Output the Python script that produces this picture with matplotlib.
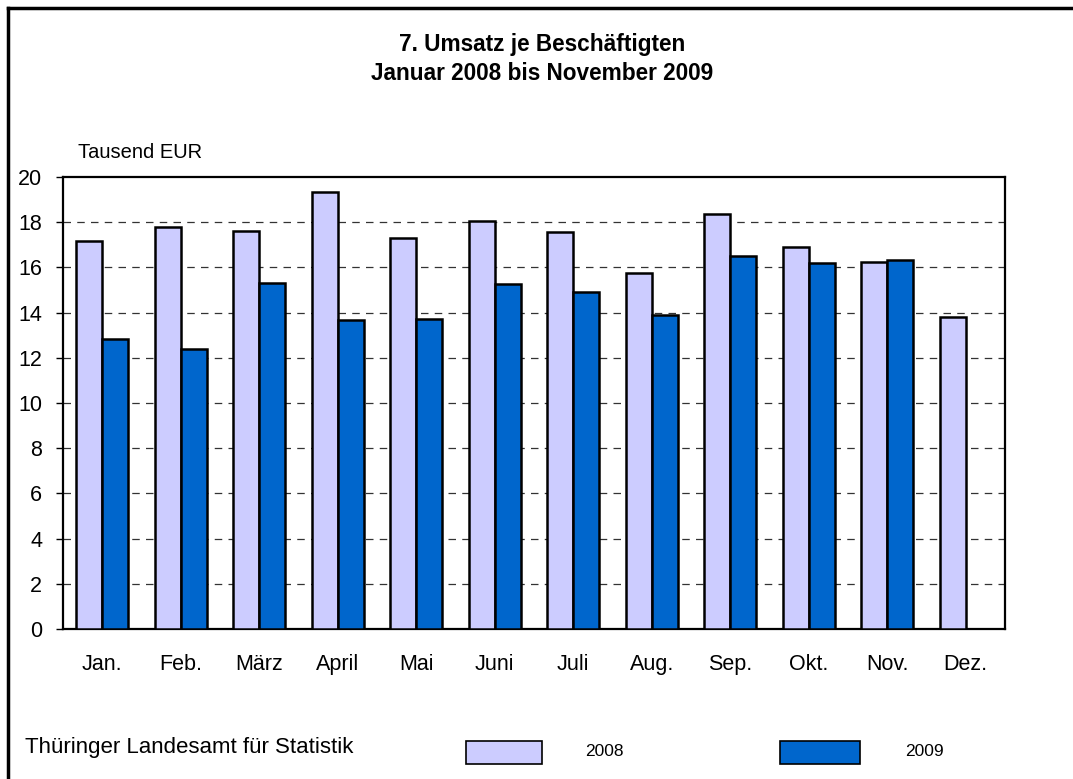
import matplotlib.pyplot as plt
import numpy as np
from matplotlib.patches import Rectangle
from matplotlib.lines import Line2D

plt.rcParams['font.family'] = ['Liberation Sans', 'DejaVu Sans']

# ---------------------------------------------------------
# DATA (Tausend EUR)
# ---------------------------------------------------------
months = ['Jan.', 'Feb.', 'März', 'April', 'Mai', 'Juni', 'Juli',
          'Aug.', 'Sep.', 'Okt.', 'Nov.', 'Dez.']
values_2008 = [17.15, 17.8, 17.6, 19.33, 17.32, 18.06, 17.57, 15.76,
               18.35, 16.92, 16.23, 13.8]
values_2009 = [12.82, 12.41, 15.3, 13.67, 13.73, 15.26, 14.91, 13.88,
               16.5, 16.18, 16.32]
yticks = list(range(0, 21, 2))

COL_2008 = '#CCCCFF'
COL_2009 = '#0066CC'

W, H = 1073, 779
fig = plt.figure(figsize=(W / 100, H / 100), dpi=100)

# outer frame (left and top edges only visible)
fig.add_artist(Line2D([7.5 / W, 7.5 / W], [0, 1 - 8 / H], color='black', lw=2.5,
                      transform=fig.transFigure))
fig.add_artist(Line2D([7.5 / W, 1], [1 - 8 / H, 1 - 8 / H], color='black', lw=2.5,
                      transform=fig.transFigure))

ax = fig.add_axes([63 / W, 1 - 629 / H, (1005 - 63) / W, (629 - 177) / H])

x = np.arange(len(months))
width = 0.33
ax.bar(x[:len(values_2008)] - width / 2, values_2008, width, color=COL_2008,
       edgecolor='black', linewidth=1.8, zorder=3)
ax.bar(x[:len(values_2009)] + width / 2, values_2009, width, color=COL_2009,
       edgecolor='black', linewidth=1.8, zorder=3)

ax.set_xlim(-0.5, len(months) - 0.5)
ax.set_ylim(0, 20)
ax.set_yticks(yticks)
ax.set_yticklabels([str(t) for t in yticks], fontsize=15.5)
ax.set_xticks(x)
ax.set_xticklabels(months, fontsize=15.5)
ax.tick_params(axis='x', length=0, pad=18)
ax.tick_params(axis='y', length=5, width=1, direction='out', pad=10)
for t in yticks[1:-1]:
    ax.axhline(t, color='#333333', lw=0.9, ls=(0, (6, 5)), zorder=1)
for s in ax.spines.values():
    s.set_linewidth(1.6)

fig.text(78 / W, 1 - 153 / H, 'Tausend EUR', fontsize=14.5, va='center', ha='left')
fig.text(542 / W, 1 - 45 / H, '7. Umsatz je Beschäftigten', fontsize=16.3,
         fontweight='bold', ha='center', va='center')
fig.text(542 / W, 1 - 73 / H, 'Januar 2008 bis November 2009', fontsize=16.3,
         fontweight='bold', ha='center', va='center')

fig.text(25 / W, 1 - 747 / H, 'Thüringer Landesamt für Statistik', fontsize=16,
         ha='left', va='center')

# legend
fig.add_artist(Rectangle((466 / W, 1 - 764 / H), 76 / W, 23 / H, facecolor=COL_2008,
                         edgecolor='black', lw=1.2, transform=fig.transFigure))
fig.text(585 / W, 1 - 752 / H, '2008', fontsize=12.5, ha='left', va='center')
fig.add_artist(Rectangle((780 / W, 1 - 764 / H), 80 / W, 23 / H, facecolor=COL_2009,
                         edgecolor='black', lw=1.2, transform=fig.transFigure))
fig.text(905 / W, 1 - 752 / H, '2009', fontsize=12.5, ha='left', va='center')

fig.savefig('out.png', dpi=100)
